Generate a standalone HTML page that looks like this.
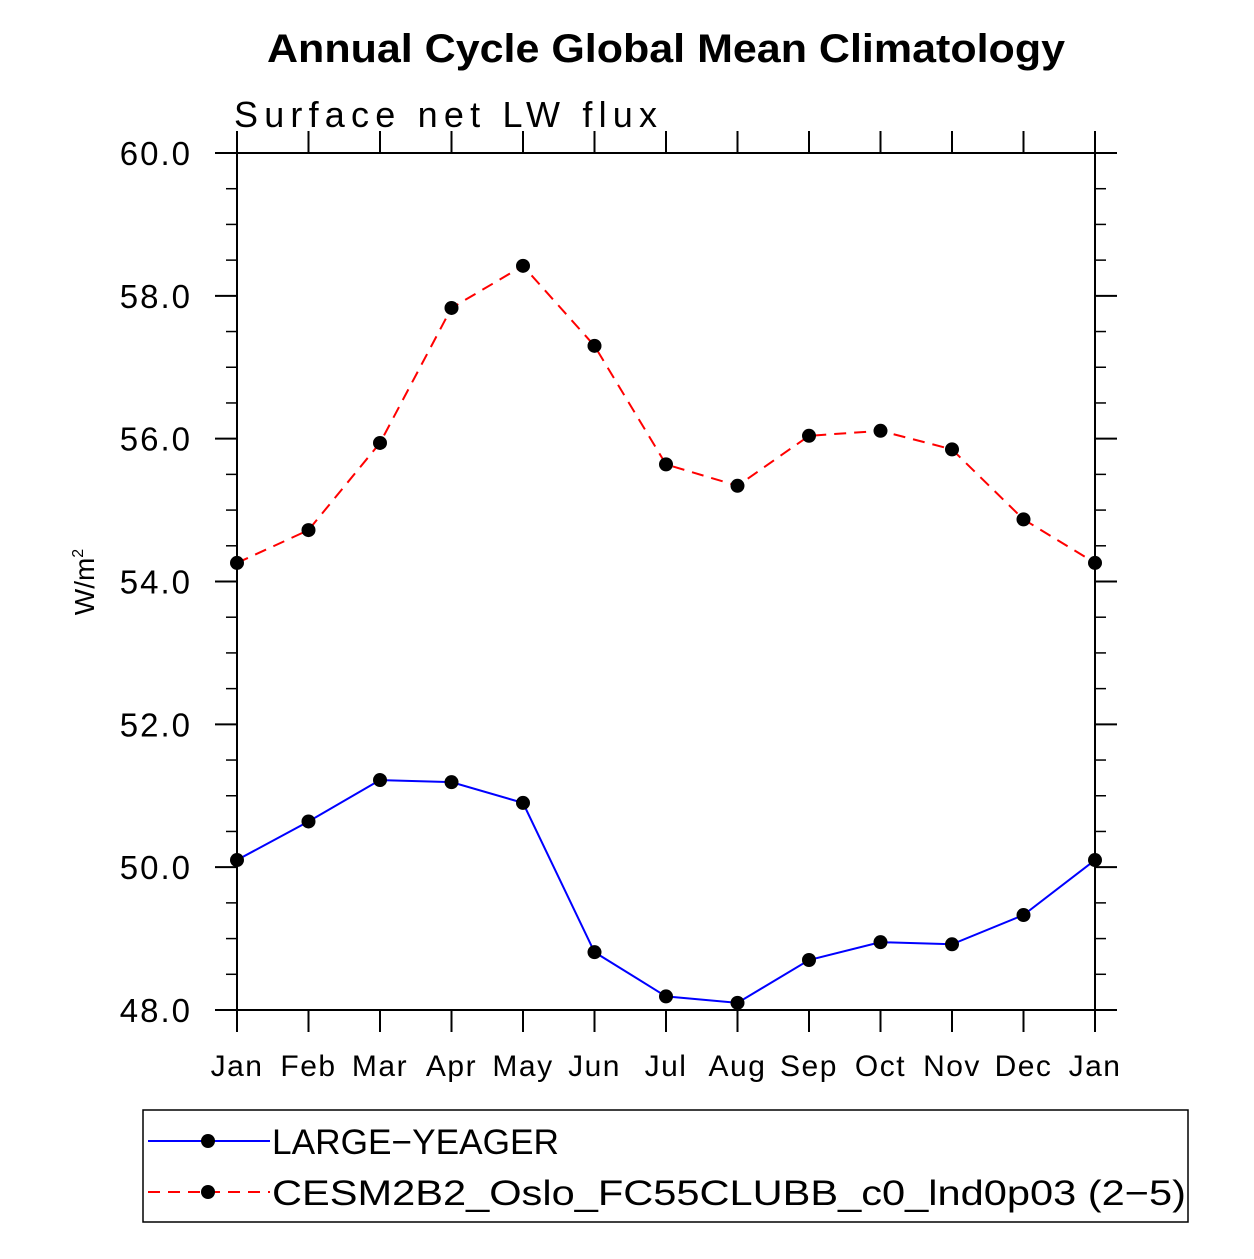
<!DOCTYPE html>
<html><head><meta charset="utf-8"><style>
body{margin:0;background:#fff}
svg text{font-family:"Liberation Sans",sans-serif}
</style></head><body>
<svg id="c" width="1254" height="1254" xmlns="http://www.w3.org/2000/svg">
<text x="267" y="62" textLength="798" lengthAdjust="spacingAndGlyphs" font-size="40" font-weight="bold">Annual Cycle Global Mean Climatology</text>
<text x="234" y="127" textLength="423" lengthAdjust="spacing" font-size="36">Surface net LW flux</text>
<text transform="translate(94,582) rotate(-90)" text-anchor="middle" font-size="28">W/m<tspan font-size="16" dy="-11">2</tspan></text>
<g id="axes"></g>
<g id="series"></g>
<rect x="143" y="1110" width="1045" height="112" fill="none" stroke="#000" stroke-width="1.5"/>
<line x1="148" y1="1141" x2="270" y2="1141" stroke="#00f" stroke-width="2"/>
<circle cx="208" cy="1141" r="7" fill="#000"/>
<text x="272" y="1154" textLength="287" lengthAdjust="spacingAndGlyphs" font-size="35">LARGE−YEAGER</text>
<line x1="148" y1="1192" x2="270" y2="1192" stroke="#f00" stroke-width="2" stroke-dasharray="12,8"/>
<circle cx="208" cy="1192" r="7" fill="#000"/>
<text x="272" y="1205" textLength="914" lengthAdjust="spacingAndGlyphs" font-size="35">CESM2B2_Oslo_FC55CLUBB_c0_lnd0p03 (2−5)</text>
</svg>
<script>
const months=["Jan","Feb","Mar","Apr","May","Jun","Jul","Aug","Sep","Oct","Nov","Dec","Jan"];
const yTicks=[48,50,52,54,56,58,60];
const largeYeager=[50.10,50.64,51.22,51.19,50.90,48.81,48.19,48.10,48.70,48.95,48.92,49.33,50.10];
const cesm=[54.26,54.72,55.94,57.83,58.42,57.30,55.64,55.34,56.04,56.11,55.85,54.87,54.26];
const X0=237,X1=1095,Y0=1010,Y1=153,YMIN=48,YMAX=60;
const xs=i=>X0+(X1-X0)*i/(months.length-1);
const ys=v=>Y0-(v-YMIN)/(YMAX-YMIN)*(Y0-Y1);
const NS="http://www.w3.org/2000/svg";
const ax=document.getElementById('axes'),se=document.getElementById('series');
function mk(tag,at,p){const e=document.createElementNS(NS,tag);for(const k in at)e.setAttribute(k,at[k]);p.appendChild(e);return e;}
const fr=mk('rect',{x:X0,y:Y1,width:X1-X0,height:Y0-Y1,fill:'none',stroke:'#000','stroke-width':2},ax);


months.forEach((m,i)=>{const x=xs(i);
 const t=mk('line',{x1:x,y1:Y0,x2:x,y2:Y0+22,stroke:'#000','stroke-width':2},ax);
 
 
 const t2=mk('line',{x1:x,y1:Y1,x2:x,y2:Y1-22,stroke:'#000','stroke-width':2},ax);
 
 
 const l=mk('text',{x:x,y:1076,'text-anchor':'middle','font-size':30,'letter-spacing':1.5},ax);l.textContent=m;
 
 
});
for(let v=YMIN;v<=YMAX+1e-9;v+=0.5){const y=ys(v);const major=Math.abs(v/2-Math.round(v/2))<1e-6;const L=major?22:11;
 const a=mk('line',{x1:X0-L,y1:y,x2:X0,y2:y,stroke:'#000','stroke-width':major?2:1.5},ax);
 
 
 const b=mk('line',{x1:X1,y1:y,x2:X1+L,y2:y,stroke:'#000','stroke-width':major?2:1.5},ax);
 
 
}
yTicks.forEach(v=>{const l=mk('text',{x:192,y:ys(v)+12,'text-anchor':'end','font-size':33,'letter-spacing':2},ax);l.textContent=v.toFixed(1);
 
 });
function series(vals,color,dash,name){
 const p=mk('polyline',{points:vals.map((v,i)=>xs(i)+','+ys(v)).join(' '),fill:'none',stroke:color,'stroke-width':2,'stroke-dasharray':dash},se);
 
 
 vals.forEach((v,i)=>{const c=mk('circle',{cx:xs(i),cy:ys(v),r:7,fill:'#000'},se);
  
  });
}
series(largeYeager,'#00f','none','large-yeager');
series(cesm,'#f00','12,8','cesm2b2');
</script>
</body></html>
